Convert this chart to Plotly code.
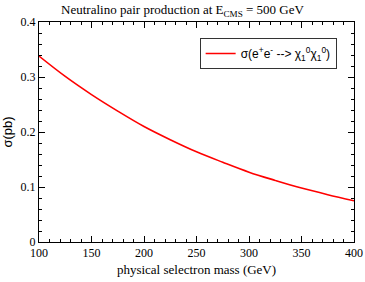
import plotly.graph_objects as go

mass = [100, 125, 150, 175, 200, 225, 250, 275, 300, 325, 350, 375, 400]
sigma = [0.338, 0.301, 0.268, 0.238, 0.210, 0.186, 0.164, 0.145, 0.127, 0.112, 0.098, 0.086, 0.075]

title_text = "Neutralino pair production at E<sub>CMS</sub> = 500 GeV"
x_title = "physical selectron mass (GeV)"
y_title = "σ(pb)"
legend_label = "σ(e<sup>+</sup>e<sup>-</sup> --> χ<sub>1</sub><sup>0</sup>χ<sub>1</sub><sup>0</sup>)"

fig = go.Figure()
fig.add_trace(go.Scatter(x=mass, y=sigma, mode="lines",
                         line=dict(color="#ff0000", width=1.6, shape="spline"),
                         name=legend_label))

serif = "Liberation Serif, Times New Roman, serif"
sans = "Liberation Sans, Arial, sans-serif"

axis_common = dict(showline=True, linecolor="black", linewidth=1, mirror="ticks",
                   ticks="inside", ticklen=6, tickcolor="black", tickwidth=1,
                   showgrid=False, zeroline=False, automargin=False,
                   tickfont=dict(family=serif, size=12, color="black"))

fig.update_layout(
    width=365, height=282,
    margin=dict(l=39, r=11, t=22, b=40),
    paper_bgcolor="white", plot_bgcolor="white",
    title=dict(text=title_text, x=0.5, xanchor="center", y=0.965, yanchor="middle",
               font=dict(family=serif, size=13, color="black")),
    xaxis=dict(range=[100, 400], tick0=100, dtick=50,
               minor=dict(ticks="inside", ticklen=3, dtick=10, tickcolor="black"),
               title=dict(text=x_title, font=dict(family=serif, size=13, color="black"), standoff=5),
               **axis_common),
    yaxis=dict(range=[0, 0.4], tick0=0, dtick=0.1,
               minor=dict(ticks="inside", ticklen=3, dtick=0.02, tickcolor="black"),
               title=dict(text=y_title, font=dict(family=sans, size=13, color="black"), standoff=6),
               **axis_common),
    legend=dict(x=0.51, y=0.927, xanchor="left", yanchor="top",
                bordercolor="#333333", borderwidth=1, bgcolor="white",
                font=dict(family=sans, size=12, color="black"),
                itemwidth=30, tracegroupgap=0),
    showlegend=True,
)

fig.write_html("out.html", config={"displayModeBar": False},
               post_script="document.body.style.margin='0';document.body.style.padding='0';")
